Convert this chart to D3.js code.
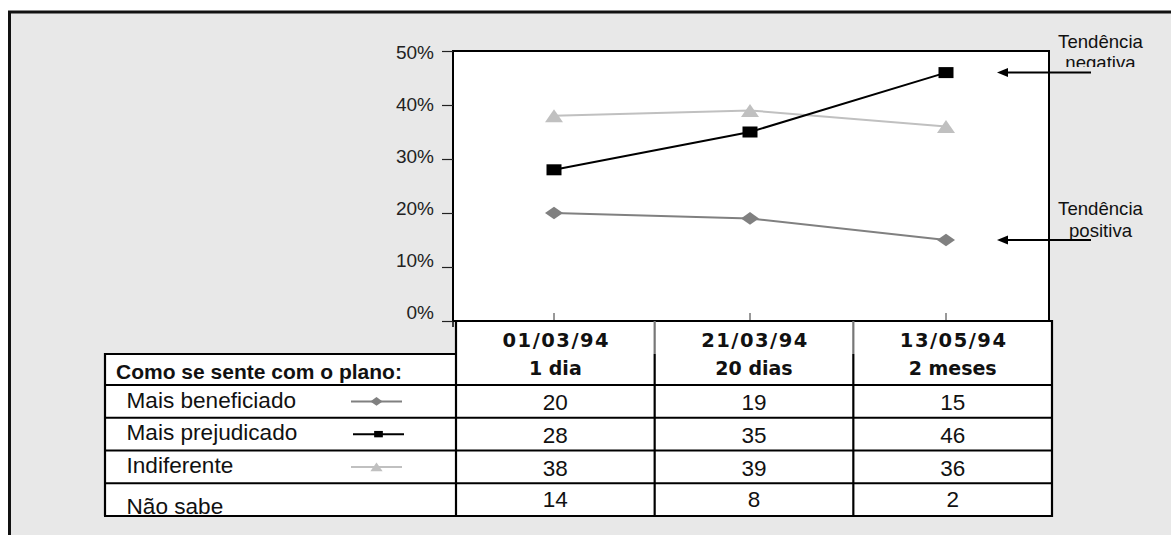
<!DOCTYPE html>
<html>
<head>
<meta charset="utf-8">
<script src="https://cdn.jsdelivr.net/npm/d3@7"></script>
<style>
  html, body { margin: 0; padding: 0; background: #ffffff; }
  svg { display: block; font-family: "Liberation Sans", Arial, Helvetica, sans-serif; }
</style>
</head>
<body>
<svg id="chart" width="1171" height="535"></svg>
<script>
// ---------- DATA ----------
const dates = ["01/03/94", "21/03/94", "13/05/94"];
const periods = ["1 dia", "20 dias", "2 meses"];
const yTicks = [0, 0.1, 0.2, 0.3, 0.4, 0.5];
const seriesNames = ["Mais beneficiado", "Mais prejudicado", "Indiferente"];
const beneficiado = [20, 19, 15];
const prejudicado = [28, 35, 46];
const indiferente = [38, 39, 36];
const naoSabeLabel = "Não sabe";
const naoSabe = [14, 8, 2];
const tableTitle = "Como se sente com o plano:";
const annotationLines = [["Tendência", "negativa"], ["Tendência", "positiva"]];
const annotationSeries = ["Mais prejudicado", "Mais beneficiado"];

// ---------- STYLE / LAYOUT ----------
const seriesValues = [beneficiado, prejudicado, indiferente];
const seriesStyle = {
  "Mais beneficiado": { color: "#808080", shape: "diamond" },
  "Mais prejudicado": { color: "#000000", shape: "square" },
  "Indiferente": { color: "#c0c0c0", shape: "triangle" }
};
const series = seriesNames.map((n, i) => ({ name: n, values: seriesValues[i], ...seriesStyle[n] }));

const svg = d3.select("#chart");
const ink = "#111";

const plot = { left: 453, right: 1049, top: 51, bottom: 321 };
const table = { left: 105, mid: 456, right: 1052, top: 321, titleTop: 354, bodyTop: 385, bottom: 516 };

const y = d3.scaleLinear().domain([0, 0.5]).range([plot.bottom, plot.top]);
// Excel label placement is slightly compressed vs ticks
const yLabel = d3.scaleLinear().domain([0, 0.5]).range([plot.bottom - 9, plot.top + 1.8]);
const x = d3.scalePoint().domain(dates).range([456, 1044]).padding(0.5);
const col = d3.scaleBand().domain(dates).range([table.mid, table.right]);
const rowKeys = [...seriesNames, naoSabeLabel];
const row = d3.scaleBand().domain(rowKeys).range([table.bodyTop, table.bottom]);

// ---------- BACKGROUND FRAME ----------
svg.append("rect").attr("x", 9.5).attr("y", 12).attr("width", 1300).attr("height", 600)
  .attr("fill", "#e8e8e8").attr("stroke", "#111").attr("stroke-width", 3);

// plot area
svg.append("rect").attr("x", plot.left).attr("y", plot.top)
  .attr("width", plot.right - plot.left).attr("height", plot.bottom - plot.top)
  .attr("fill", "#fff").attr("stroke", "#000").attr("stroke-width", 2);
svg.append("line").attr("x1", plot.left).attr("x2", plot.left).attr("y1", plot.bottom).attr("y2", plot.bottom + 6)
  .attr("stroke", "#000").attr("stroke-width", 1.5);

// ---------- Y AXIS ----------
const yAxis = svg.append("g").attr("transform", `translate(${plot.left},0)`)
  .call(d3.axisLeft(y).tickValues(yTicks).tickSize(11).tickPadding(8).tickFormat(d3.format(".0%")));
yAxis.select(".domain").remove();
yAxis.selectAll(".tick line").attr("stroke", "#222").attr("stroke-width", 1.2);
yAxis.selectAll(".tick text")
  .attr("font-size", 19).attr("fill", "#222")
  .attr("font-family", "'Liberation Sans', Arial, sans-serif")
  .attr("y", d => yLabel(d) - y(d));

// x ticks (upward inside plot)
svg.append("g").selectAll("line").data(dates).join("line")
  .attr("x1", d => x(d)).attr("x2", d => x(d))
  .attr("y1", plot.bottom - 8).attr("y2", plot.bottom)
  .attr("stroke", "#333").attr("stroke-width", 1);

// ---------- MARKERS ----------
function marker(g, shape, cx, cy, color, s) {
  if (shape === "square") {
    g.append("rect").attr("x", cx - 7.5 * s).attr("y", cy - 5.5 * s)
      .attr("width", 15 * s).attr("height", 11 * s).attr("fill", color);
  } else if (shape === "diamond") {
    const w = 9 * s, h = 6.3 * s;
    g.append("path").attr("d", `M${cx - w},${cy}L${cx},${cy - h}L${cx + w},${cy}L${cx},${cy + h}Z`).attr("fill", color);
  } else {
    const w = 9 * s, h = 13 * s;
    g.append("path").attr("d", `M${cx - w},${cy + h / 2}L${cx},${cy - h / 2}L${cx + w},${cy + h / 2}Z`).attr("fill", color);
  }
}

// ---------- SERIES ----------
const line = d3.line().x((d, i) => x(dates[i])).y(d => y(d / 100));
const drawOrder = ["Indiferente", "Mais beneficiado", "Mais prejudicado"];
drawOrder.forEach(n => {
  const s = series.find(e => e.name === n);
  const g = svg.append("g");
  g.append("path").attr("d", line(s.values)).attr("fill", "none")
    .attr("stroke", s.color).attr("stroke-width", 2);
  s.values.forEach((v, i) => marker(g, s.shape, x(dates[i]), y(v / 100), s.color, 1));
});

// ---------- ANNOTATIONS ----------
const defs = svg.append("defs");
annotationSeries.forEach((n, k) => {
  const s = series.find(e => e.name === n);
  const ay = y(s.values[s.values.length - 1] / 100);
  const clipBottom = k === 0 ? ay - 5.5 : ay + 0.5;
  defs.append("clipPath").attr("id", "clip" + k)
    .append("rect").attr("x", 1040).attr("y", ay - 50).attr("width", 120).attr("height", clipBottom - (ay - 50));
  const t = svg.append("g").attr("clip-path", `url(#clip${k})`);
  t.append("text").attr("x", 1100.5).attr("y", ay - 25).attr("text-anchor", "middle")
    .attr("font-size", 18.6).attr("fill", ink).text(annotationLines[k][0]);
  t.append("text").attr("x", 1100.5).attr("y", ay - 3.5).attr("text-anchor", "middle")
    .attr("font-size", 18.6).attr("fill", ink).text(annotationLines[k][1]);
  svg.append("line").attr("x1", 1003).attr("x2", 1091).attr("y1", ay).attr("y2", ay)
    .attr("stroke", "#000").attr("stroke-width", 2);
  svg.append("path").attr("d", `M997,${ay}L1008,${ay - 4.5}L1008,${ay + 4.5}Z`).attr("fill", "#000");
});

// ---------- TABLE ----------
const tg = svg.append("g");
tg.append("rect").attr("x", table.left).attr("y", table.titleTop)
  .attr("width", table.right - table.left).attr("height", table.bottom - table.titleTop).attr("fill", "#fff");
tg.append("rect").attr("x", table.mid).attr("y", table.top)
  .attr("width", table.right - table.mid).attr("height", table.titleTop - table.top).attr("fill", "#fff");

// header text
const headFont = "'DejaVu Sans', 'Liberation Sans', Arial, sans-serif";
dates.forEach((d, i) => {
  const cx = col(d) + col.bandwidth() / 2;
  tg.append("text").attr("x", cx + 1).attr("y", 347).attr("text-anchor", "middle")
    .attr("font-family", headFont)
    .attr("font-size", 19.5).attr("font-weight", "bold").attr("letter-spacing", 1.5)
    .attr("fill", ink).text(d);
  tg.append("text").attr("x", cx).attr("y", 375).attr("text-anchor", "middle")
    .attr("font-family", headFont)
    .attr("font-size", 19).attr("font-weight", "bold")
    .attr("fill", ink).text(periods[i]);
});
tg.append("text").attr("x", 116).attr("y", 378.5).attr("font-size", 21).attr("font-weight", "bold")
  .attr("fill", ink).text(tableTitle);

// body rows
const bodyValues = [...seriesValues, naoSabe];
rowKeys.forEach((k, r) => {
  const top = row(k);
  const isLast = k === naoSabeLabel;
  tg.append("text").attr("x", 126.5).attr("y", isLast ? top + 30.5 : top + 22.5)
    .attr("font-size", 22.6).attr("fill", ink).text(k);
  bodyValues[r].forEach((v, i) => {
    tg.append("text").attr("x", col(dates[i]) + col.bandwidth() / 2).attr("y", top + (isLast ? 24 : 25.2))
      .attr("text-anchor", "middle").attr("font-size", 22.5).attr("fill", ink).text(v);
  });
  const s = series.find(e => e.name === k);
  if (s) {
    const cy = top + row.bandwidth() / 2;
    const x0 = s.shape === "square" ? 353 : 351, x1 = x0 + 51;
    tg.append("line").attr("x1", x0).attr("x2", x1).attr("y1", cy).attr("y2", cy)
      .attr("stroke", s.color).attr("stroke-width", 2);
    const ms = s.shape === "square" ? 0.58 : 0.68;
    marker(tg, s.shape, (x0 + x1) / 2, cy, s.color, ms);
  }
});

// table grid lines
const hl = (x1, x2, yy) => tg.append("line").attr("x1", x1).attr("x2", x2).attr("y1", yy).attr("y2", yy)
  .attr("stroke", "#000").attr("stroke-width", 2.2);
const vl = (xx, y1, y2, c) => tg.append("line").attr("x1", xx).attr("x2", xx).attr("y1", y1).attr("y2", y2)
  .attr("stroke", c || "#000").attr("stroke-width", 2.2);

hl(plot.left, table.right, table.top);
hl(table.left, table.mid, table.titleTop);
rowKeys.forEach(k => hl(table.left, table.right, row(k)));
hl(table.left - 1, table.right + 1, table.bottom);
vl(table.left, table.titleTop - 1, table.bottom);
vl(table.mid, table.top, table.bottom);
dates.slice(1).forEach(d => {
  vl(col(d), table.top, table.titleTop, "#777");
  vl(col(d), table.titleTop, table.bottom);
});
vl(table.right, table.top - 1, table.bottom + 1);
</script>
</body>
</html>
